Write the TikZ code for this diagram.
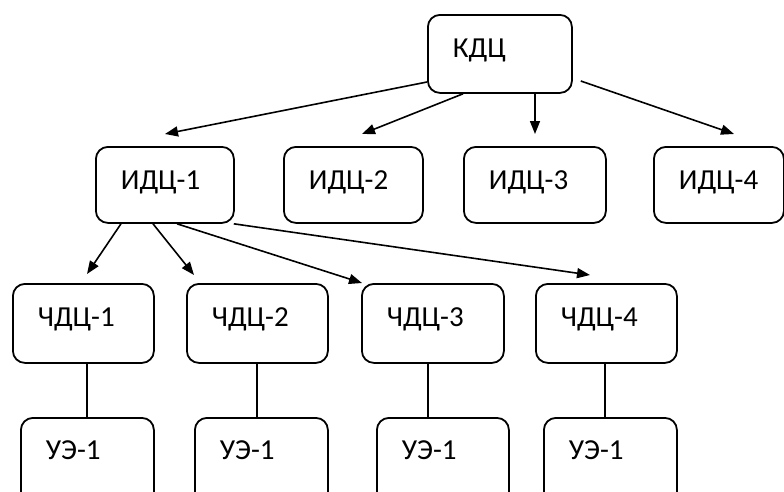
\documentclass[tikz,border=0pt]{standalone}
\usepackage{fontspec}
\setmainfont{Carlito}
\usetikzlibrary{calc,arrows.meta}
\tikzset{
  bx/.style={draw, line width=1.8pt, rounded corners=12pt, anchor=north west,
    inner xsep=25pt, inner ysep=0pt, align=left, text height=43pt,
    font=\fontsize{29}{34}\selectfont},
  bxa/.style={bx, text width=90pt, text depth=35pt},
  bxb/.style={bx, text width=88pt, text depth=33pt},
  bxc/.style={bx, text width=91pt, text depth=36pt},
  bxd/.style={bx, text width=83pt, text depth=47pt},
  arr/.style={line width=1.6pt, -{Triangle[length=13pt,width=10pt]}},
  ln/.style={line width=1.6pt}
}
\begin{document}
\begin{tikzpicture}[x=1pt,y=-1pt]
\useasboundingbox (0,0) rectangle (784,491);
\clip (0,0) rectangle (784,491);
% top
\node[bx, text width=94pt, text depth=35pt] (kdc) at (427,14) {КДЦ};
% second row
\node[bx, text width=88pt, text depth=33pt] (i1) at (95,146) {ИДЦ-1};
\node[bx, text width=89pt, text depth=33pt] (i2) at (283,146) {ИДЦ-2};
\node[bx, text width=92pt, text depth=33pt] (i3) at (463,146) {ИДЦ-3};
\node[bx, text width=80pt, text depth=33pt] (i4) at (653,146) {ИДЦ-4};
% third row
\node[bx, text width=91pt, text depth=36pt] (c1) at (12,283) {ЧДЦ-1};
\node[bx, text width=91pt, text depth=36pt] (c2) at (186,283) {ЧДЦ-2};
\node[bx, text width=92pt, text depth=36pt] (c3) at (361,283) {ЧДЦ-3};
\node[bx, text width=91pt, text depth=36pt] (c4) at (535,283) {ЧДЦ-4};
% fourth row
\node[bx, text width=83pt, text height=42pt, text depth=52pt] (u1) at (20,417) {УЭ-1};
\node[bx, text width=83pt, text height=42pt, text depth=52pt] (u2) at (194,417) {УЭ-1};
\node[bx, text width=82pt, text height=42pt, text depth=52pt] (u3) at (376,417) {УЭ-1};
\node[bx, text width=83pt, text height=42pt, text depth=52pt] (u4) at (543,417) {УЭ-1};
% arrows from KDC
\draw[arr] ($(kdc.north west)+(0,68)$) -- ($(i1.north west)+(70,-12)$);
\draw[arr] ($(kdc.south west)+(36,0)$) -- ($(i2.north west)+(79,-12)$);
\draw[arr] ($(kdc.south west)+(108,0)$) -- ($(i3.north west)+(72,-12)$);
\draw[arr] ($(kdc.north east)+(8,67)$) -- ($(i4.north west)+(81,-12)$);
% arrows from IDC-1
\draw[arr] ($(i1.south west)+(26,0)$) -- ($(c1.north west)+(75,-9)$);
\draw[arr] ($(i1.south west)+(58,0)$) -- ($(c2.north west)+(8,-8)$);
\draw[arr] ($(i1.south west)+(82,0)$) -- ($(c3.north west)+(1,0)$);
\draw[arr] ($(i1.south east)+(-1,0)$) -- ($(c4.north west)+(55,-8)$);
% vertical lines
\draw[ln] ($(c1.south west)+(75,0)$) -- ($(u1.north west)+(67,0)$);
\draw[ln] ($(c2.south west)+(71,0)$) -- ($(u2.north west)+(63,0)$);
\draw[ln] ($(c3.south west)+(67,0)$) -- ($(u3.north west)+(52,0)$);
\draw[ln] ($(c4.south west)+(70,0)$) -- ($(u4.north west)+(62,0)$);
\end{tikzpicture}
\end{document}
